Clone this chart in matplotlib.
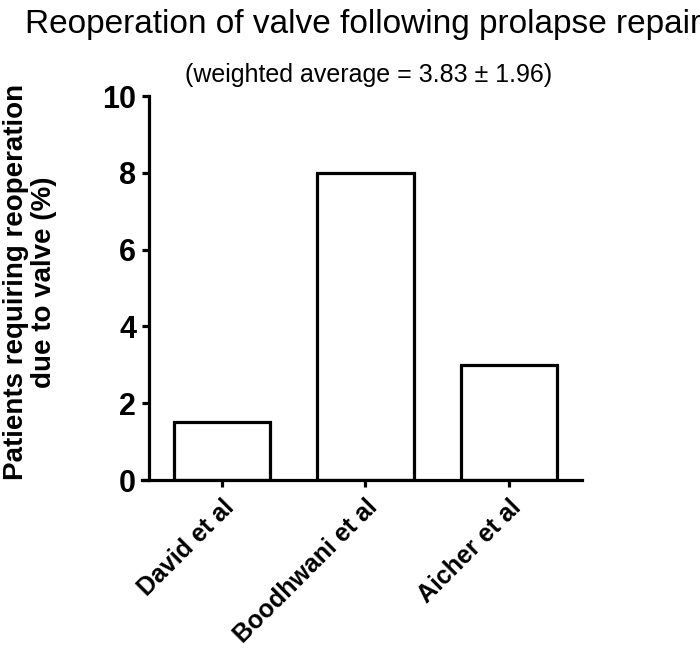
import matplotlib
matplotlib.use('Agg')
import matplotlib.pyplot as plt
import numpy as np

# Datos
studies = ['David et al', 'Boodhwani et al', 'Aicher et al']
reop_pct = [1.5, 8.0, 3.0]
yticks = [0, 2, 4, 6, 8, 10]

plt.rcParams['font.family'] = ['Liberation Sans', 'DejaVu Sans']

fig = plt.figure(figsize=(7, 6.5), dpi=100)
ax = fig.add_axes([142 / 700, 1 - 480 / 650, 440 / 700, 384 / 650])

# spines primero: set_position reinicia los ticks
for s in ['top', 'right']:
    ax.spines[s].set_visible(False)
ax.spines['left'].set_position(('data', -0.51))
ax.spines['left'].set_linewidth(2.3)
ax.spines['bottom'].set_linewidth(2.3)

x = np.arange(len(studies))
ax.bar(x, reop_pct, width=0.67, facecolor='white', edgecolor='black', linewidth=2.3)

ax.set_xlim(-0.557, 2.509)
ax.set_ylim(0, 10)
ax.set_yticks(yticks)
ax.set_yticklabels([str(t) for t in yticks], fontsize=22, fontweight='bold')
ax.set_xticks(x)
ax.set_xticklabels(studies, fontsize=18, fontweight='bold', rotation=45,
                   ha='right', rotation_mode='anchor')

ax.tick_params(axis='y', length=5, width=2.3, pad=4)
ax.tick_params(axis='x', length=5, width=2.3, pad=6)

ax.set_ylabel('Patients requiring reoperation\ndue to valve (%)', fontsize=20,
              fontweight='bold', linespacing=1.1)
ax.yaxis.set_label_coords(-0.193, 0.515)

fig.text(25 / 700, 1 - 24 / 650, 'Reoperation of valve following prolapse repair',
         fontsize=24, ha='left', va='center')
fig.text(369 / 700, 1 - 75 / 650, '(weighted average = 3.83 ± 1.96)',
         fontsize=18, ha='center', va='center')

fig.savefig('out.png', dpi=100)
